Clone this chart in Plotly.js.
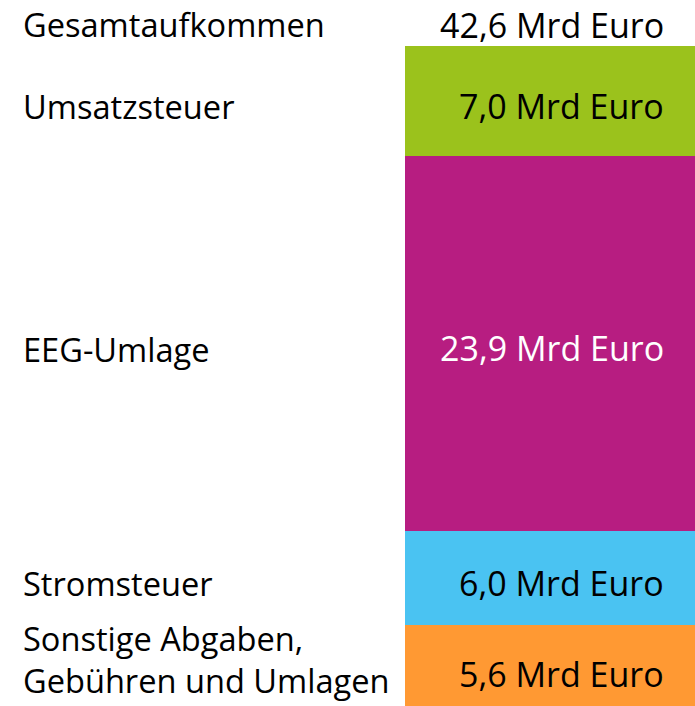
<!DOCTYPE html>
<html>
<head>
<meta charset="utf-8">
<script src="https://cdn.plot.ly/plotly-3.0.1.min.js"></script>
<style>html,body{margin:0;padding:0;background:#fff;}#chart{width:695px;height:706px;}</style>
</head>
<body>
<div id="chart"></div>
<script>
// Data (bottom to top)
var categories = ["Sonstige Abgaben,<br>Gebühren und Umlagen", "Stromsteuer", "EEG-Umlage", "Umsatzsteuer"];
var values = [5.6, 6.0, 23.9, 7.0];
var valueLabels = ["5,6 Mrd Euro", "6,0 Mrd Euro", "23,9 Mrd Euro", "7,0 Mrd Euro"];
var totalLabel = "Gesamtaufkommen";
var totalValueLabel = "42,6 Mrd Euro";

var colors = ["#FF9933", "#4AC3F2", "#B71D81", "#9BC21C"];
var textColors = ["#000000", "#000000", "#ffffff", "#000000"];

var traces = values.map(function (v, i) {
  return {
    type: "bar",
    x: [0],
    y: [v],
    width: 1,
    marker: { color: colors[i], line: { width: 0 } },
    hoverinfo: "skip",
    showlegend: false
  };
});

var leftFont = { family: "Open Sans, sans-serif", size: 32.6, color: "#000" };
var rightFont = { family: "Open Sans, sans-serif", size: 34, color: "#000" };

var annotations = [];
var cum = 0;
values.forEach(function (v, i) {
  var mid = cum + v / 2;
  cum += v;
  var shiftL = (i === 0) ? 9 : -6;
  annotations.push({
    xref: "paper", yref: "y", x: 21 / 695, y: mid, xanchor: "left", yanchor: "middle",
    text: categories[i], showarrow: false, align: "left", yshift: shiftL,
    font: leftFont
  });
  annotations.push({
    xref: "paper", yref: "y", x: 666 / 695, y: mid, xanchor: "right", yanchor: "middle",
    text: valueLabels[i], showarrow: false, align: "right", yshift: -5,
    font: { family: rightFont.family, size: rightFont.size, color: textColors[i] }
  });
});
annotations.push({
  xref: "paper", yref: "y", x: 21 / 695, y: cum, xanchor: "left", yanchor: "middle",
  text: totalLabel, showarrow: false, yshift: 21, font: leftFont
});
annotations.push({
  xref: "paper", yref: "y", x: 666 / 695, y: cum, xanchor: "right", yanchor: "middle",
  text: totalValueLabel, showarrow: false, yshift: 21, font: rightFont
});

var layout = {
  width: 695, height: 706,
  margin: { l: 0, r: 0, t: 0, b: 0, pad: 0 },
  paper_bgcolor: "#fff", plot_bgcolor: "#fff",
  barmode: "stack",
  xaxis: { range: [-1.8964, 0.5], visible: false, fixedrange: true },
  yaxis: { range: [0.44, 45.41], visible: false, fixedrange: true },
  annotations: annotations,
  showlegend: false
};

Plotly.newPlot("chart", traces, layout, { displayModeBar: false, staticPlot: true });
</script>
</body>
</html>
